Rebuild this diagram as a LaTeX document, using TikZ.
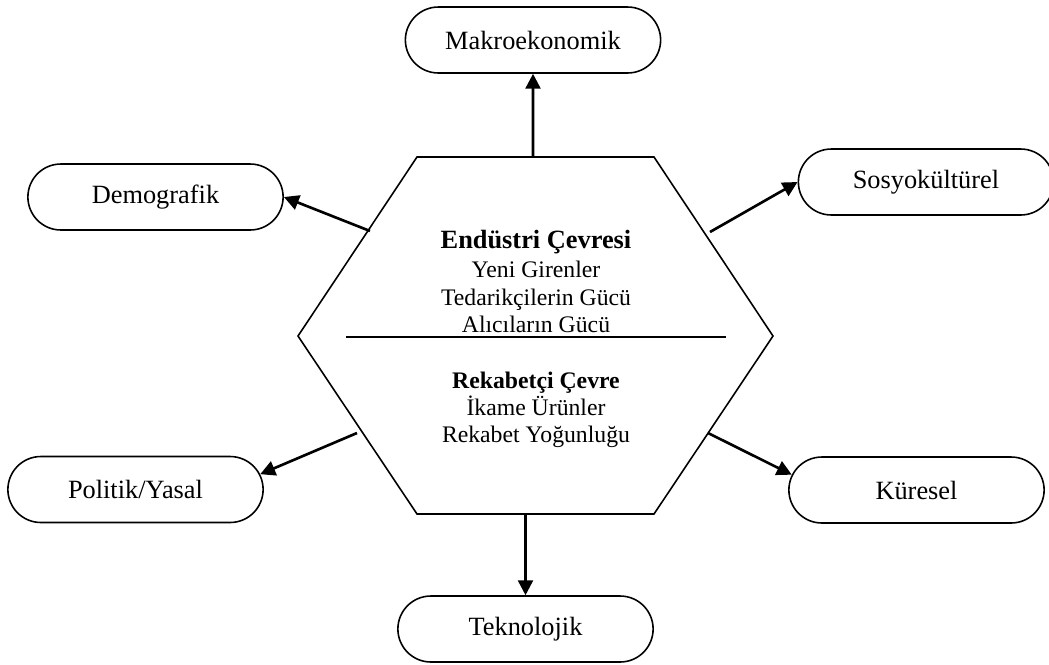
\documentclass[tikz,border=0pt]{standalone}
\usepackage{fontspec}
\setmainfont{Liberation Serif}
\usetikzlibrary{shapes.misc,arrows.meta}
\tikzset{
  env/.style={draw,line width=0.9pt,rounded rectangle,minimum width=5.34cm,minimum height=1.32cm,font=\fontsize{15}{18}\selectfont},
  item/.style={anchor=base,inner sep=0pt,font=\fontsize{13.5}{16}\selectfont},
  head/.style={anchor=base,inner sep=0pt,font=\fontsize{#1}{18}\selectfont\bfseries},
  push/.style={line width=1.5pt,-{Triangle[length=8.5pt,width=8.5pt]}}
}
\begin{document}
\begin{tikzpicture}[x=0.02cm,y=-0.02cm]
    \useasboundingbox (0,0) rectangle (1049,664);

    \node[env] (makro) at (533,40) {Makroekonomik};
    \node[env] (demo) at (155.5,197) {Demografik};
    \node[env] (sosyo) at (926,182) {Sosyokültürel};
    \node[env] (poli) at (135.5,489.5) {Politik/Yasal};
    \node[env] (kuresel) at (916.5,490) {Küresel};
    \node[env] (tekno) at (525.5,629) {Teknolojik};

    \coordinate (h1) at (417,157);
    \coordinate (h2) at (654,157);
    \coordinate (h3) at (773,336);
    \coordinate (h4) at (654,514);
    \coordinate (h5) at (417,514);
    \coordinate (h6) at (298,336);
    \draw[line width=0.9pt] (h1) -- (h2) -- (h3) -- (h4) -- (h5) -- (h6) -- cycle;
    \coordinate (dl) at (346,337);
    \coordinate (dr) at (726,337);
    \draw[line width=1pt] (dl) -- (dr);

    \node[head=15] (ind) at (536,248) {Endüstri Çevresi};
    \node[item] (ind1) at (536,277) {Yeni Girenler};
    \node[item] (ind2) at (536,305) {Tedarikçilerin Gücü};
    \node[item] (ind3) at (536,332) {Alıcıların Gücü};
    \node[head=13.5] (rek) at (536,388) {Rekabetçi Çevre};
    \node[item] (rek1) at (536,415) {İkame Ürünler};
    \node[item] (rek2) at (536,442) {Rekabet Yoğunluğu};

    \coordinate (mk0) at (533,157);
    \coordinate (dm0) at (370,231);
    \coordinate (so0) at (710,232);
    \coordinate (po0) at (357,433);
    \coordinate (ku0) at (708,433);
    \coordinate (te0) at (525.5,514);
    \draw[push] (mk0) -- (makro);
    \draw[push] (dm0) -- (demo.east);
    \draw[push] (so0) -- (sosyo.west);
    \draw[push] (po0) -- (poli.7);
    \draw[push] (ku0) -- (kuresel.173);
    \draw[push] (te0) -- (tekno);
\end{tikzpicture}
\end{document}
